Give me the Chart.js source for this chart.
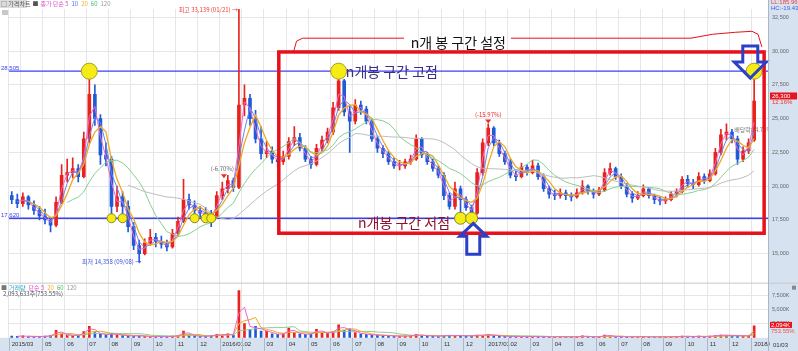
<!DOCTYPE html>
<html>
<head>
<meta charset="utf-8">
<script src="https://cdn.jsdelivr.net/npm/chart.js@4.4.1/dist/chart.umd.min.js"></script>
<style>
  html, body { margin: 0; padding: 0; background: #fff; }
  #wrap { width: 798px; height: 351px; position: relative; }
</style>
</head>
<body>
<div id="wrap"><canvas id="stockChart"></canvas></div>
<script>
// x axis: month tick labels and number of candles drawn in each month
var months = ['2015/03', '04', '05', '06', '07', '08', '09', '10', '11', '12',
  '2016/01', '02', '03', '04', '05', '06', '07', '08', '09', '10', '11', '12',
  '2017/01', '02', '03', '04', '05', '06', '07', '08', '09', '10', '11', '12', '2018/01'];
var candlesPerMonth = [2, 4, 4, 4, 4, 4, 4, 4, 4, 4,
  4, 4, 4, 4, 4, 4, 4, 4, 4, 4, 4, 4,
  4, 4, 4, 4, 4, 4, 4, 4, 4, 4, 4, 4, 1];

// candles (KRW)
var openPrices = [
  19300, 19000, 18700, 19200, 18600, 18200, 17800, 17500, 17100, 18800,
  20800, 21000, 21300, 20700, 23500, 26800, 25000, 22300, 22000, 18500,
  19200, 18500, 17000, 15600, 15000, 15800, 16200, 15900, 15700, 15500,
  16500, 17400, 19000, 18600, 18200, 18000, 17800, 17700, 19300, 19800,
  20400, 19900, 26000, 26500, 25000, 23500, 22400, 22600, 22000, 21800,
  22200, 23300, 23600, 22800, 22000, 21600, 22800, 23400, 24000, 25800,
  27800, 25500, 24800, 26000, 25700, 24800, 23500, 22800, 22400, 21800,
  21500, 21500, 21800, 22000, 23500, 22300, 21800, 21300, 20800, 19300,
  18500, 19800, 19000, 18400, 18000, 21000, 23200, 24300, 23200, 22400,
  21800, 20800, 20700, 21400, 21000, 21500, 20700, 19800, 19400, 19300,
  19500, 19300, 19200, 19500, 20000, 19600, 19400, 19700, 21000, 21300,
  20700, 20000, 19400, 19100, 19300, 19800, 19300, 19000, 18900, 19000,
  19400, 19600, 20500, 20200, 20100, 20700, 20400, 20900, 22500, 23800,
  24000, 23500, 22000, 22600, 23400];
var highPrices = [
  19600, 19400, 19500, 19300, 18900, 18500, 18300, 17700, 19200, 21600,
  22000, 22100, 21600, 24000, 28505, 27500, 25300, 23200, 22200, 20000,
  19600, 18900, 17300, 16000, 16100, 16800, 16500, 16300, 16000, 16800,
  17700, 20500, 19400, 18900, 18500, 18400, 18200, 19600, 20300, 20800,
  20600, 33139, 27500, 26800, 25600, 24400, 23300, 22900, 22300, 22600,
  23600, 24400, 23900, 23000, 22200, 23100, 23700, 24300, 26200, 28505,
  27900, 26000, 26400, 26300, 25900, 25000, 23700, 23000, 22600, 22100,
  21900, 22000, 22300, 23800, 23600, 22500, 22000, 21500, 21000, 19500,
  20300, 20000, 19200, 18600, 21300, 23500, 24600, 24400, 23400, 22600,
  22000, 21200, 21700, 21600, 21900, 21700, 20900, 20000, 19700, 19800,
  19700, 19500, 19800, 20400, 20100, 19800, 19900, 21300, 21700, 21400,
  20900, 20200, 19600, 19600, 20100, 19900, 19400, 19200, 19200, 19600,
  19800, 20700, 20800, 20500, 21000, 20900, 21200, 22800, 24200, 24600,
  24200, 23700, 22900, 23500, 28505];
var lowPrices = [
  18700, 18400, 18500, 18300, 17900, 17500, 17200, 16600, 17000, 18700,
  20300, 20600, 20300, 20600, 23200, 24500, 21600, 21500, 17700, 18100,
  17600, 16600, 15300, 14358, 14900, 15600, 15500, 15400, 15200, 15400,
  16300, 17300, 18300, 17700, 17700, 17600, 17000, 17600, 19000, 19500,
  19600, 19800, 25200, 24500, 23200, 22000, 22100, 21700, 21400, 21600,
  22000, 23000, 22600, 21800, 21300, 21500, 22600, 23200, 23800, 25600,
  25200, 22500, 24600, 25300, 24600, 23300, 22500, 22100, 21600, 21300,
  21200, 21300, 21600, 21900, 22100, 21600, 21100, 20600, 19000, 18300,
  18300, 17700, 18200, 17600, 17900, 20800, 23000, 23000, 22200, 21600,
  20600, 20400, 20600, 20800, 20900, 20500, 19600, 19100, 19000, 19100,
  19000, 18900, 19100, 19400, 19400, 19100, 19300, 19600, 20800, 20500,
  19800, 19200, 18800, 19000, 19200, 19100, 18700, 18600, 18700, 18900,
  19200, 19500, 19900, 19800, 20000, 20200, 20300, 20800, 22300, 23400,
  23200, 21600, 21800, 22400, 23300];
var closePrices = [
  19000, 18700, 19200, 18600, 18200, 17800, 17500, 17100, 18800, 20800,
  21000, 21300, 20700, 23500, 26800, 25000, 22300, 22000, 18500, 19200,
  18500, 17000, 15600, 15000, 15800, 16200, 15900, 15700, 15500, 16500,
  17400, 19000, 18600, 18200, 18000, 17800, 17700, 19300, 19800, 20400,
  19900, 26000, 26500, 25000, 23500, 22400, 22600, 22000, 21800, 22200,
  23300, 23600, 22800, 22000, 21600, 22800, 23400, 24000, 25800, 27800,
  25500, 24800, 26000, 25700, 24800, 23500, 22800, 22400, 21800, 21500,
  21500, 21800, 22000, 23500, 22300, 21800, 21300, 20800, 19300, 18500,
  19800, 19000, 18400, 18000, 21000, 23200, 24300, 23200, 22400, 21800,
  20800, 20700, 21400, 21000, 21500, 20700, 19800, 19400, 19300, 19500,
  19300, 19200, 19500, 20000, 19600, 19400, 19700, 21000, 21300, 20700,
  20000, 19400, 19100, 19300, 19800, 19300, 19000, 18900, 19000, 19400,
  19600, 20500, 20200, 20100, 20700, 20400, 20900, 22500, 23800, 24000,
  23500, 22000, 22600, 23200, 26300];

// volume, thousand shares
var volumes = [
  300, 250, 350, 200, 250, 200, 300, 400, 1300, 700,
  500, 400, 450, 1100, 2000, 900, 600, 500, 800, 500,
  400, 350, 300, 400, 250, 200, 200, 250, 200, 300,
  400, 1200, 500, 300, 250, 300, 350, 600, 500, 700,
  500, 8300, 2500, 1500, 2000, 1200, 1200, 700, 600, 700,
  1700, 900, 700, 600, 700, 1500, 900, 800, 1100, 2300,
  1300, 1600, 900, 700, 600, 500, 450, 400, 350, 300,
  300, 300, 350, 600, 400, 350, 300, 300, 400, 450,
  350, 400, 300, 350, 500, 450, 600, 400, 300, 250,
  250, 200, 250, 200, 250, 200, 200, 150, 150, 200,
  150, 150, 200, 350, 200, 150, 200, 500, 300, 200,
  200, 150, 150, 200, 200, 150, 150, 150, 150, 200,
  200, 300, 250, 200, 300, 200, 300, 400, 500, 450,
  350, 400, 300, 350, 2094];

// moving averages (periods in candles) and the marked range
var maPeriods = [2, 3, 4, 11, 22];
var maColors = ['#ee66cc', '#6a86ee', '#f2a81e', '#86cf92', '#bdbdbd'];
var rangeHigh = 28505;
var rangeLow = 17620;
var highMarkIdx = [14, 59, 134];
var lowMarkIdx = [18, 20, 33, 35, 36, 81, 83];
var priceTicks = [15000, 17500, 20000, 22500, 25000, 27500, 30000, 32500];
var volumeTicks = [2500, 5000, 7500];

var upColor = '#e8231e';
var downColor = '#1f5ad8';
var panelBlue = '#d6e2ef';
var KR = '"Noto Sans CJK KR", sans-serif';
var LAT = '"Liberation Sans", Arial, sans-serif';

// build labels
var labels = [];
var monthTickText = {};
months.forEach(function (m, mi) {
  for (var j = 0; j < candlesPerMonth[mi]; j++) {
    if (j === 0) monthTickText[labels.length] = m;
    labels.push(m + '#' + j);
  }
});
labels.push('pad1', 'pad2'); // empty room at the right edge like the HTS chart

function sma(values, n) {
  return values.map(function (v, i) {
    if (i < n - 1) return null;
    var s = 0;
    for (var k = i - n + 1; k <= i; k++) s += values[k];
    return s / n;
  });
}

var candleColors = closePrices.map(function (c, i) { return c >= openPrices[i] ? upColor : downColor; });

function markSeries(idx, value) {
  return labels.map(function (l, i) { return idx.indexOf(i) >= 0 ? value : null; });
}

var datasets = [];
datasets.push({
  type: 'bar', label: 'wick', yAxisID: 'y', grouped: false, order: 9,
  data: lowPrices.map(function (l, i) { return [l, highPrices[i]]; }),
  backgroundColor: candleColors, barThickness: 1
});
datasets.push({
  type: 'bar', label: 'body', yAxisID: 'y', grouped: false, order: 8,
  data: openPrices.map(function (o, i) { return [o, closePrices[i]]; }),
  backgroundColor: candleColors, barThickness: 3, minBarLength: 1
});
maPeriods.forEach(function (p, k) {
  datasets.push({
    type: 'line', label: 'MA' + p, yAxisID: 'y', order: 7 - k,
    data: sma(closePrices, p), borderColor: maColors[k], borderWidth: k === 2 ? 1.3 : 1,
    pointRadius: 0, tension: 0
  });
});
datasets.push({
  type: 'bar', label: 'volume', yAxisID: 'yVol', grouped: false, order: 9,
  data: volumes, backgroundColor: candleColors, barThickness: 2
});
[[2, '#ee66cc'], [4, '#f2a81e'], [11, '#86cf92']].forEach(function (v) {
  datasets.push({
    type: 'line', label: 'VMA' + v[0], yAxisID: 'yVol', order: 2,
    data: sma(volumes, v[0]), borderColor: v[1], borderWidth: 1, pointRadius: 0
  });
});
datasets.push({
  type: 'line', label: 'highMarks', yAxisID: 'y', order: 0, showLine: false,
  data: markSeries(highMarkIdx, rangeHigh),
  pointRadius: 8, pointBackgroundColor: '#f4ec14', pointBorderColor: '#a8a020', pointBorderWidth: 1
});
datasets.push({
  type: 'line', label: 'lowMarks', yAxisID: 'y', order: 0, showLine: false,
  data: markSeries(lowMarkIdx, rangeLow),
  pointRadius: function (c) { return c.dataIndex > 60 ? 6 : 4.5; },
  pointBackgroundColor: '#f4ec14', pointBorderColor: '#8a8a20', pointBorderWidth: 1
});

function runs(c, x, y, parts) {
  parts.forEach(function (p) {
    c.fillStyle = p[1];
    c.fillText(p[0], x, y);
    x += c.measureText(p[0]).width + (p[2] || 0);
  });
}

function hollowArrow(c, tipX, tipY, up, headH, headW, shaftW, len) {
  var s = up ? 1 : -1;
  c.beginPath();
  c.moveTo(tipX, tipY);
  c.lineTo(tipX + headW, tipY + s * headH);
  c.lineTo(tipX + shaftW, tipY + s * headH);
  c.lineTo(tipX + shaftW, tipY + s * len);
  c.lineTo(tipX - shaftW, tipY + s * len);
  c.lineTo(tipX - shaftW, tipY + s * headH);
  c.lineTo(tipX - headW, tipY + s * headH);
  c.closePath();
  c.stroke();
}

function downTri(c, x, y) {
  c.fillStyle = '#f02828';
  c.beginPath();
  c.moveTo(x - 3, y - 3); c.lineTo(x + 3, y - 3); c.lineTo(x, y + 1);
  c.closePath(); c.fill();
}

var overlay = {
  id: 'overlay',
  beforeDraw: function (chart) {
    var c = chart.ctx, a = chart.chartArea;
    c.save();
    c.fillStyle = '#fff';
    c.fillRect(0, 0, chart.width, chart.height);
    c.fillStyle = panelBlue;
    c.fillRect(a.right, 0, chart.width - a.right, chart.height);
    c.fillRect(0, a.bottom, a.right, chart.height - a.bottom);
    c.restore();
  },
  beforeDatasetsDraw: function (chart) {
    var c = chart.ctx, a = chart.chartArea, x = chart.scales.x, y = chart.scales.y, yv = chart.scales.yVol;
    c.save();
    // pane separator
    c.strokeStyle = '#c8c8c8'; c.lineWidth = 1;
    c.beginPath(); c.moveTo(0, yv.top + 0.5); c.lineTo(chart.width, yv.top + 0.5); c.stroke();
    // month separators in the date strip
    c.strokeStyle = '#aab8c8';
    Object.keys(monthTickText).forEach(function (k) {
      if (+k === 2) return;
      var px = Math.round(x.getPixelForValue(+k) - x.width / labels.length / 2) + 0.5;
      c.beginPath(); c.moveTo(px, a.bottom); c.lineTo(px, chart.height); c.stroke();
    });
    // range high / low lines
    c.strokeStyle = '#3a40f0'; c.lineWidth = 1.3;
    [rangeHigh, rangeLow].forEach(function (v) {
      var py = y.getPixelForValue(v);
      c.beginPath(); c.moveTo(a.left, py); c.lineTo(a.right, py); c.stroke();
    });
    c.font = '6px ' + LAT; c.fillStyle = '#3a40f0'; c.textBaseline = 'middle';
    c.fillText('28,505', 1, y.getPixelForValue(rangeHigh) - 3);
    c.fillText('17,620', 1, y.getPixelForValue(rangeLow) - 3);
    c.restore();
  },
  afterDatasetsDraw: function (chart) {
    var c = chart.ctx, a = chart.chartArea, x = chart.scales.x, y = chart.scales.y, yv = chart.scales.yVol;
    function X(i) { return x.getPixelForValue(i); }
    function Y(p) { return y.getPixelForValue(p); }
    c.save();

    // small HTS labels
    c.textBaseline = 'middle';
    c.font = '6px ' + KR;
    c.textAlign = 'right';
    c.fillStyle = '#f03a3a';
    c.fillText('최고 33,139 (01/21) →', X(41) - 1, Y(33139) + 1);
    c.fillStyle = '#3b50e0';
    c.fillText('최저 14,358 (09/08) →', X(23) + 2, Y(14358) - 1);
    c.textAlign = 'center';
    c.fillStyle = '#666';
    c.fillText('(-6.70%)', X(38), Y(21250));
    downTri(c, X(38.3), Y(20650));
    c.fillText('(-15.97%)', X(86), Y(25260));
    downTri(c, X(86), Y(24700));
    c.save();
    c.beginPath(); c.rect(a.left, a.top, a.right - a.left, a.bottom - a.top); c.clip();
    c.textAlign = 'left'; c.fillStyle = '#777';
    c.fillText('배당락(-4.71%)', X(130.4), Y(24170));
    c.restore();

    // top-left legend
    c.textAlign = 'left';
    c.font = '6px ' + KR;
    c.fillStyle = '#dcdcdc'; c.fillRect(0, 0, 27, 8);
    c.fillStyle = '#c8c8c8'; c.fillRect(2, 10, 6, 5);
    runs(c, 1, 4, [['□ 가격차트', '#555', 2], ['■', '#555', 2], ['종가 단순 5', '#e04ecc', 3],
      ['10', '#5577ee', 3], ['20', '#f0b030', 3], ['60', '#44bb66', 3], ['120', '#999']]);
    // volume legend
    var vt = yv.top;
    runs(c, 1, vt + 5, [['■', '#777', 2], ['거래량', '#2aaacc', 3], ['단순 5', '#e04ecc', 3],
      ['20', '#f0b030', 3], ['60', '#44bb66', 3], ['120', '#999']]);
    c.fillStyle = '#555';
    c.fillText('2,093,633주(753.55%)', 3, vt + 11);

    // red n-candle box
    c.strokeStyle = '#e8101a'; c.lineWidth = 3.5;
    var rx0 = X(48.2), rx1 = X(135.8), ry0 = Y(29930), ry1 = Y(16510);
    c.strokeRect(rx0, ry0, rx1 - rx0, ry1 - ry0);

    // bracket over the box
    c.lineWidth = 1; c.strokeStyle = '#e8101a';
    c.beginPath();
    [[50.9, 30000], [51.4, 30730], [52.5, 30950], [70.8, 30950]].forEach(function (p, k) {
      k ? c.lineTo(X(p[0]), Y(p[1])) : c.moveTo(X(p[0]), Y(p[1]));
    });
    c.stroke();
    c.beginPath();
    [[90.1, 30950], [122.6, 30950], [126.5, 31240], [130.6, 31385], [133.6, 31460],
      [134.7, 31240], [135.4, 30290]].forEach(function (p, k) {
      k ? c.lineTo(X(p[0]), Y(p[1])) : c.moveTo(X(p[0]), Y(p[1]));
    });
    c.stroke();

    c.font = '14px ' + KR; c.textAlign = 'center'; c.fillStyle = '#111';
    c.fillText('n개 봉 구간 설정', X(80.6), Y(30650));
    c.textAlign = 'left';
    c.fillStyle = '#3e2d86';
    c.fillText('n개봉 구간 고점', X(60.3), Y(rangeHigh));
    c.fillStyle = '#8c1430';
    c.fillText('n개봉 구간 저점', X(62.5), Y(17300));

    // blue hollow arrows
    c.strokeStyle = '#2b40c8'; c.lineWidth = 3; c.lineJoin = 'miter';
    hollowArrow(c, X(83.3), Y(17240), true, 13, 13.5, 6.5, 31);
    hollowArrow(c, X(133.3), Y(28000), false, 16, 16, 7.5, 32);
    c.restore();
  },
  afterDraw: function (chart) {
    var c = chart.ctx, a = chart.chartArea, y = chart.scales.y, yv = chart.scales.yVol;
    c.save();
    c.strokeStyle = '#a8b6c6'; c.lineWidth = 1;
    c.beginPath(); c.moveTo(a.right + 0.5, 0); c.lineTo(a.right + 0.5, chart.height); c.stroke();
    c.textBaseline = 'middle'; c.textAlign = 'left';
    c.font = '6px ' + LAT;
    // current price
    var py = y.getPixelForValue(closePrices[closePrices.length - 1]) - 5;
    c.fillStyle = '#e8141c'; c.fillRect(a.right + 2, py - 3.5, chart.width - a.right - 3, 7);
    c.fillStyle = '#fff'; c.fillText('26,300', a.right + 4, py);
    c.fillStyle = '#f03030'; c.fillText('12.16%', a.right + 4, py + 6);
    // current volume
    var pv = yv.getPixelForValue(volumes[volumes.length - 1]) - 1;
    c.fillStyle = '#e8141c'; c.fillRect(a.right + 2, pv - 3, 22, 6);
    c.fillStyle = '#fff'; c.fillText('2,094K', a.right + 3, pv);
    c.fillStyle = '#f05050'; c.fillText('753.55%', a.right + 3, pv + 6);
    // top right info
    c.fillStyle = '#f03a3a'; c.fillText('LL:185.96', a.right + 3, 2);
    c.fillStyle = '#3a60e0'; c.fillText('HC:-19.43', a.right + 3, 8);
    c.fillStyle = '#888'; c.fillRect(chart.width - 6, yv.top + 3, 4, 4);
    // cursor date in the axis strip
    c.fillStyle = panelBlue; c.fillRect(770, a.bottom + 1, chart.width - 770, chart.height - a.bottom);
    c.fillStyle = '#333'; c.fillText('01/03', 773, (a.bottom + chart.height) / 2 + 0.5);
    c.restore();
  }
};

var ctx = document.getElementById('stockChart');
var stockChart = new Chart(ctx, {
  type: 'bar',
  data: { labels: labels, datasets: datasets },
  options: {
    responsive: true,
    maintainAspectRatio: false,
    animation: false,
    layout: { padding: 0 },
    plugins: { legend: { display: false }, tooltip: { enabled: false } },
    scales: {
      x: {
        offset: true,
        grid: {
          offset: true, drawTicks: false,
          color: function (c) { return (c.index in monthTickText) ? '#e6e6e6' : 'rgba(0,0,0,0)'; }
        },
        border: { display: false },
        ticks: {
          autoSkip: false, maxRotation: 0, align: 'start', padding: 3,
          font: { family: LAT, size: 6 }, color: '#333',
          callback: function (v, i) { return (i !== 2 && monthTickText[i]) ? monthTickText[i] : ''; }
        }
      },
      y: {
        type: 'linear', position: 'right', stack: 'pane', stackWeight: 278,
        min: 12850, max: 33110,
        grid: { color: '#e6e6e6', drawTicks: false },
        border: { display: false },
        afterBuildTicks: function (s) { s.ticks = priceTicks.map(function (v) { return { value: v }; }); },
        afterFit: function (s) { s.width = 30; },
        ticks: {
          padding: 4, font: { family: LAT, size: 5.5 }, color: '#666',
          callback: function (v) { return v.toLocaleString('en-US'); }
        }
      },
      yVol: {
        type: 'linear', position: 'right', stack: 'pane', stackWeight: 56,
        min: 0, max: 9700,
        grid: { color: '#e6e6e6', drawTicks: false },
        border: { display: false },
        afterBuildTicks: function (s) { s.ticks = volumeTicks.map(function (v) { return { value: v }; }); },
        afterFit: function (s) { s.width = 30; },
        ticks: {
          padding: 4, font: { family: LAT, size: 5.5 }, color: '#666',
          callback: function (v) { return v.toLocaleString('en-US') + 'K'; }
        }
      }
    }
  },
  plugins: [overlay]
});
</script>
</body>
</html>
